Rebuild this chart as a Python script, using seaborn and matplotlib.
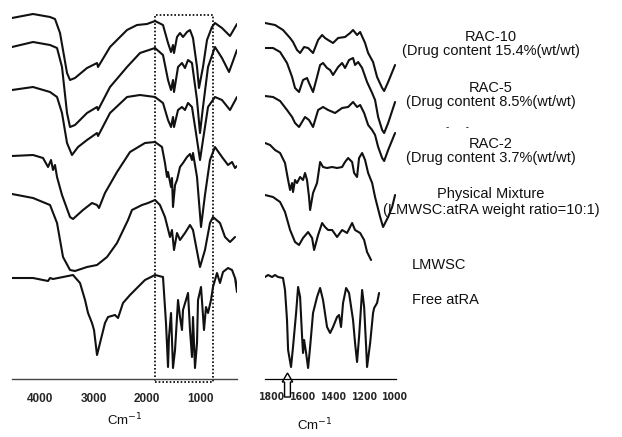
import matplotlib
matplotlib.use("Agg")
import matplotlib.pyplot as plt
from matplotlib.patches import Rectangle, FancyArrow
from matplotlib.ticker import MultipleLocator, FixedLocator
import seaborn as sns

sns.set_theme(style="white")
plt.rcParams["font.family"] = ["Liberation Sans", "DejaVu Sans"]

# ── full range spectra (wavenumber cm-1, transmittance a.u., stacked)
rac10_wn = [4524, 4131, 3813, 3720, 3626, 3495, 3439, 3346, 3121, 2934, 2915, 2691, 2373, 2186, 1999, 1849,
            1700, 1606, 1550, 1513, 1494, 1438, 1382, 1326, 1251, 1195, 1139, 1064, 1027, 952, 877, 784,
            728, 597, 447, 316]
rac10_t = [361, 365, 362, 360, 346, 306, 299, 301, 311, 316, 312, 332, 349, 354, 355, 358,
           354, 336, 327, 334, 326, 342, 346, 342, 347, 349, 341, 312, 291, 312, 339, 352,
           356, 351, 343, 355]

rac5_wn = [4524, 4131, 3813, 3682, 3589, 3495, 3439, 3346, 3121, 2934, 2915, 2691, 2373, 2130, 1849, 1700,
           1606, 1550, 1513, 1494, 1419, 1345, 1289, 1232, 1158, 1064, 1008, 952, 858, 728, 597, 465, 316]
rac5_t = [332, 337, 334, 331, 312, 266, 252, 254, 266, 272, 269, 292, 312, 326, 331, 324,
          299, 289, 299, 287, 312, 316, 311, 319, 316, 279, 246, 272, 312, 332, 321, 307, 329]

rac2_wn = [4524, 4131, 3813, 3682, 3589, 3495, 3402, 3289, 3121, 2934, 2915, 2691, 2373, 2130, 1849, 1700,
           1606, 1550, 1513, 1494, 1419, 1345, 1289, 1232, 1158, 1083, 1008, 952, 858, 728, 597, 447, 316]
rac2_t = [289, 292, 287, 282, 266, 236, 224, 232, 239, 246, 243, 266, 282, 284, 282, 276,
          259, 252, 262, 252, 269, 272, 269, 276, 272, 246, 219, 239, 272, 282, 279, 269, 282]

mix_wn = [4524, 4131, 3944, 3850, 3794, 3757, 3720, 3682, 3589, 3439, 3383, 3196, 3028, 2934, 2897, 2785,
          2560, 2317, 2037, 1849, 1719, 1663, 1625, 1606, 1550, 1532, 1513, 1475, 1438, 1382, 1326, 1251,
          1195, 1158, 1139, 1064, 989, 915, 821, 728, 597, 484, 409, 353, 316]
mix_t = [223, 224, 221, 212, 219, 209, 214, 202, 184, 162, 160, 169, 176, 174, 171, 186,
         207, 227, 236, 237, 232, 216, 202, 207, 192, 201, 172, 194, 199, 212, 216, 222,
         225, 219, 226, 202, 152, 184, 219, 232, 222, 214, 217, 211, 213]

lmwsc_wn = [4524, 4131, 3813, 3682, 3570, 3439, 3346, 3121, 2934, 2747, 2560, 2354, 2280, 2093, 1980, 1849,
            1757, 1663, 1569, 1532, 1494, 1438, 1382, 1289, 1195, 1139, 1008, 915, 821, 765, 634, 540,
            447, 353]
lmwsc_t = [185, 181, 174, 156, 122, 109, 108, 112, 114, 122, 136, 159, 169, 174, 176, 179,
           174, 162, 142, 149, 129, 146, 139, 146, 154, 149, 112, 129, 156, 162, 156, 142,
           137, 142]

atra_wn = [4524, 4131, 3850, 3813, 3757, 3383, 3252, 3158, 3102, 3028, 2990, 2934, 2878, 2785, 2728, 2598,
           2541, 2448, 2317, 2224, 2037, 1849, 1700, 1644, 1606, 1588, 1550, 1513, 1475, 1419, 1382, 1345,
           1326, 1270, 1232, 1195, 1158, 1139, 1102, 1064, 1045, 989, 933, 896, 858, 802, 765, 690,
           634, 578, 484, 409, 353, 316, 297]
atra_t = [101, 101, 98, 101, 100, 104, 96, 79, 66, 56, 49, 24, 36, 56, 62, 64,
          61, 76, 84, 89, 99, 104, 102, 56, 12, 42, 66, 11, 29, 79, 62, 49,
          69, 79, 86, 49, 22, 62, 11, 36, 79, 92, 49, 72, 66, 79, 92, 106,
          96, 107, 111, 109, 101, 87, 102]

# ── expanded 1850-1000 cm-1 region
z_rac10_wn = [1846, 1781, 1729, 1683, 1664, 1638, 1618, 1592, 1566, 1534, 1501, 1475, 1456, 1436, 1404, 1371,
              1326, 1293, 1274, 1248, 1228, 1196, 1176, 1144, 1118, 1085, 1072, 1046, 1001]
z_rac10_t = [356, 354, 349, 341, 337, 329, 326, 332, 331, 326, 339, 344, 341, 339, 336, 341,
             342, 346, 349, 344, 347, 336, 326, 317, 302, 291, 288, 297, 314]

z_rac5_wn = [1846, 1794, 1748, 1703, 1670, 1651, 1625, 1599, 1573, 1560, 1534, 1508, 1488, 1469, 1443, 1423,
             1404, 1371, 1345, 1326, 1300, 1274, 1261, 1241, 1215, 1183, 1150, 1131, 1111, 1085, 1072, 1046,
             1001]
z_rac5_t = [331, 331, 327, 316, 302, 291, 287, 299, 301, 296, 287, 302, 314, 316, 311, 309,
            304, 312, 316, 311, 319, 321, 314, 317, 311, 297, 286, 279, 262, 249, 246, 256,
            277]

z_rac2_wn = [1846, 1794, 1748, 1703, 1670, 1651, 1625, 1586, 1560, 1534, 1501, 1469, 1436, 1391, 1345, 1306,
             1274, 1248, 1228, 1202, 1176, 1150, 1131, 1111, 1085, 1072, 1046, 1001]
z_rac2_t = [283, 282, 278, 269, 262, 256, 252, 262, 259, 252, 269, 272, 269, 266, 271, 272,
            277, 272, 274, 266, 254, 249, 244, 232, 221, 218, 229, 246]

z_mix_wn = [1846, 1813, 1781, 1748, 1716, 1696, 1683, 1670, 1664, 1651, 1638, 1618, 1599, 1586, 1573, 1560,
            1553, 1534, 1508, 1488, 1469, 1443, 1410, 1378, 1345, 1326, 1306, 1280, 1267, 1248, 1235, 1215,
            1196, 1176, 1150, 1131, 1098, 1079, 1046, 1020, 1001]
z_mix_t = [236, 234, 229, 226, 216, 199, 189, 196, 187, 199, 196, 202, 199, 206, 199, 182,
           169, 186, 196, 217, 212, 211, 212, 211, 212, 217, 221, 217, 206, 202, 221, 226,
           219, 206, 196, 182, 162, 152, 162, 172, 184]

z_lmwsc_wn = [1846, 1794, 1748, 1716, 1683, 1651, 1625, 1599, 1566, 1540, 1527, 1501, 1475, 1456, 1436, 1410,
              1378, 1345, 1313, 1280, 1261, 1228, 1202, 1183, 1157]
z_lmwsc_t = [184, 182, 177, 167, 149, 137, 134, 141, 147, 141, 129, 144, 156, 152, 149, 149,
             142, 149, 146, 156, 149, 146, 139, 127, 119]

z_atra_wn = [1846, 1826, 1800, 1781, 1761, 1729, 1716, 1703, 1696, 1677, 1664, 1644, 1631, 1618, 1605, 1599,
             1592, 1579, 1566, 1553, 1534, 1508, 1488, 1469, 1443, 1423, 1404, 1378, 1365, 1352, 1339, 1319,
             1300, 1274, 1261, 1248, 1235, 1215, 1202, 1189, 1183, 1163, 1144, 1137, 1118, 1105]
z_atra_t = [102, 104, 102, 104, 102, 101, 89, 59, 29, 12, 32, 66, 92, 82, 42, 26,
            39, 26, 11, 32, 66, 82, 91, 79, 52, 46, 52, 62, 64, 52, 76, 91,
            86, 59, 36, 17, 42, 89, 72, 32, 12, 36, 66, 71, 76, 86]

full_spectra = [(rac10_wn, rac10_t), (rac5_wn, rac5_t), (rac2_wn, rac2_t),
                (mix_wn, mix_t), (lmwsc_wn, lmwsc_t), (atra_wn, atra_t)]
zoom_spectra = [(z_rac10_wn, z_rac10_t), (z_rac5_wn, z_rac5_t), (z_rac2_wn, z_rac2_t),
                (z_mix_wn, z_mix_t), (z_lmwsc_wn, z_lmwsc_t), (z_atra_wn, z_atra_t)]

left_ticks = [4000, 3000, 2000, 1000]
right_ticks = [1800, 1600, 1400, 1200, 1000]
box_range = (1850, 767)      # dotted frame on the full spectrum
arrow_at = 1700

W, H = 622, 437
fig = plt.figure(figsize=(W / 100, H / 100), dpi=100)

def frac(x0, x1, y_top, y_bot):
    return [x0 / W, 1 - y_bot / H, (x1 - x0) / W, (y_bot - y_top) / H]

axL = fig.add_axes(frac(12, 237, 10, 379))
axR = fig.add_axes(frac(265, 396, 10, 379))

for wn, t in full_spectra:
    sns.lineplot(x=wn, y=t, ax=axL, color="#111111", lw=1.5, sort=False, estimator=None)
for wn, t in zoom_spectra:
    sns.lineplot(x=wn, y=t, ax=axR, color="#111111", lw=1.5, sort=False, estimator=None)

axL.set_xlim(4524, 316)
axR.set_xlim(1846, 995)
for ax in (axL, axR):
    ax.set_ylim(0, 369)
    ax.set_yticks([])
    for s in ("left", "right", "top"):
        ax.spines[s].set_visible(False)
    ax.patch.set_alpha(0)

axL.spines["bottom"].set_linestyle((0, (2, 1)))
axL.spines["bottom"].set_color("#444444")
axL.spines["bottom"].set_linewidth(1.0)
axL.xaxis.set_major_locator(FixedLocator(left_ticks))
axL.xaxis.set_minor_locator(MultipleLocator(250))
axL.tick_params(axis="x", which="major", direction="inout", length=4, width=0.8, color="#444444",
                pad=8, labelsize=8.5)
axL.tick_params(axis="x", which="minor", direction="inout", length=1.5, width=0.5, color="#666666")
axL.set_xticklabels([str(v) for v in left_ticks], fontweight="bold")

axR.spines["bottom"].set_color("black")
axR.spines["bottom"].set_linewidth(0.9)
axR.xaxis.set_major_locator(FixedLocator(right_ticks))
axR.xaxis.set_minor_locator(MultipleLocator(50))
axR.tick_params(axis="x", which="major", direction="inout", length=4, width=0.8, color="black",
                pad=7, labelsize=7.5)
axR.tick_params(axis="x", which="minor", direction="inout", length=2, width=0.5, color="black")
axR.set_xticklabels([str(v) for v in right_ticks], fontweight="bold", family=["DejaVu Sans"],
                    fontstretch="condensed")

# dotted frame marking the expanded region
axL.add_patch(Rectangle((box_range[0], -3), box_range[1] - box_range[0], 367, fill=False,
                        ls=(0, (1, 1.2)), lw=1.2, ec="black", clip_on=False))

# hollow arrow on the expanded axis
axR.add_patch(FancyArrow(arrow_at, -18, 0, 24, width=38, head_width=68, head_length=9,
                         length_includes_head=True, fc="white", ec="black", lw=1.0, clip_on=False))

def label(x, y, s, ha="center", size=10.5, spacing=1.07):
    fig.text(x / W, 1 - y / H, s, ha=ha, va="center", fontsize=size, color="#111111",
             linespacing=spacing, multialignment="center")

label(491, 44, "RAC-10\n(Drug content 15.4%(wt/wt)")
label(491, 95, "RAC-5\n(Drug content 8.5%(wt/wt)")
label(458, 127, "-      -", size=7)
label(491, 151, "RAC-2\n(Drug content 3.7%(wt/wt)")
label(491, 202, "Physical Mixture\n(LMWSC:atRA weight ratio=10:1)", spacing=1.25)
label(412, 265, "LMWSC", ha="left")
label(412, 300, "Free atRA", ha="left")
label(125, 420, "Cm$^{-1}$", size=9.5)
label(315, 425, "Cm$^{-1}$", size=9.5)

fig.savefig("out.png", dpi=100)
